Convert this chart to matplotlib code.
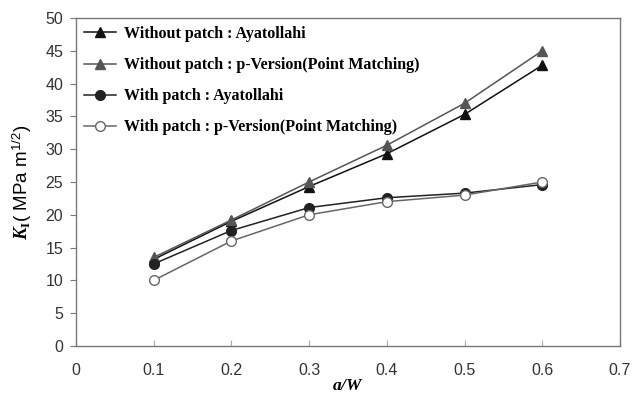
import matplotlib
matplotlib.use("Agg")
import matplotlib.pyplot as plt

# data
a_w = [0.1, 0.2, 0.3, 0.4, 0.5, 0.6]
no_patch_ayatollahi = [13.2, 19.0, 24.3, 29.3, 35.3, 42.8]
no_patch_pversion = [13.5, 19.2, 25.0, 30.6, 37.0, 45.0]
patch_ayatollahi = [12.5, 17.6, 21.1, 22.6, 23.3, 24.6]
patch_pversion = [10.0, 16.0, 20.0, 22.0, 23.0, 25.0]

labels = ["Without patch : Ayatollahi",
          "Without patch : p-Version(Point Matching)",
          "With patch : Ayatollahi",
          "With patch : p-Version(Point Matching)"]

plt.rcParams['font.family'] = ['Liberation Sans', 'DejaVu Sans']
plt.rcParams['mathtext.fontset'] = 'custom'
plt.rcParams['mathtext.rm'] = 'Liberation Sans'
plt.rcParams['mathtext.bf'] = 'Liberation Serif:bold'
plt.rcParams['mathtext.it'] = 'Liberation Serif:italic'
plt.rcParams['mathtext.bfit'] = 'Liberation Serif:bold:italic'

fig = plt.figure(figsize=(6.32, 3.98), dpi=100)
ax = fig.add_axes([0.120, 0.1307, 0.861, 0.8241])

ax.plot(a_w, no_patch_ayatollahi, color='#111111', lw=1.1, marker='^', ms=7,
        mfc='#111111', mec='#111111', label=labels[0])
ax.plot(a_w, no_patch_pversion, color='#555555', lw=1.1, marker='^', ms=7,
        mfc='#555555', mec='#555555', label=labels[1])
ax.plot(a_w, patch_ayatollahi, color='#222222', lw=1.1, marker='o', ms=7,
        mfc='#222222', mec='#222222', label=labels[2])
ax.plot(a_w, patch_pversion, color='#666666', lw=1.1, marker='o', ms=7,
        mfc='white', mec='#666666', label=labels[3])

ax.set_xlim(0, 0.7)
ax.set_ylim(0, 50)
ax.set_xticks([0, 0.1, 0.2, 0.3, 0.4, 0.5, 0.6, 0.7])
ax.set_xticklabels(['0', '0.1', '0.2', '0.3', '0.4', '0.5', '0.6', '0.7'])
ax.set_yticks(range(0, 51, 5))

for s in ax.spines.values():
    s.set_color('#777777')
    s.set_linewidth(1.0)

ax.tick_params(axis='x', direction='in', length=4, color='#aaaaaa',
               labelsize=11.5, labelcolor='#333333', pad=12)
ax.tick_params(axis='y', direction='out', length=4, color='#777777',
               labelsize=11.5, labelcolor='#333333', pad=5)

ax.set_xlabel(r'$\mathbfit{a/W}$', fontsize=12.5, labelpad=0)
ax.set_ylabel(r'$\mathbfit{K}_{\mathbf{I}}$( MPa m$^{1/2}$)', fontsize=13.5, labelpad=8)

leg = ax.legend(loc='upper left', frameon=False, handlelength=2.0,
                handletextpad=0.5, borderaxespad=0.1, labelspacing=0.95,
                prop={'family': 'Liberation Serif', 'weight': 'bold', 'size': 11.5})

fig.savefig("out.png", dpi=100)
